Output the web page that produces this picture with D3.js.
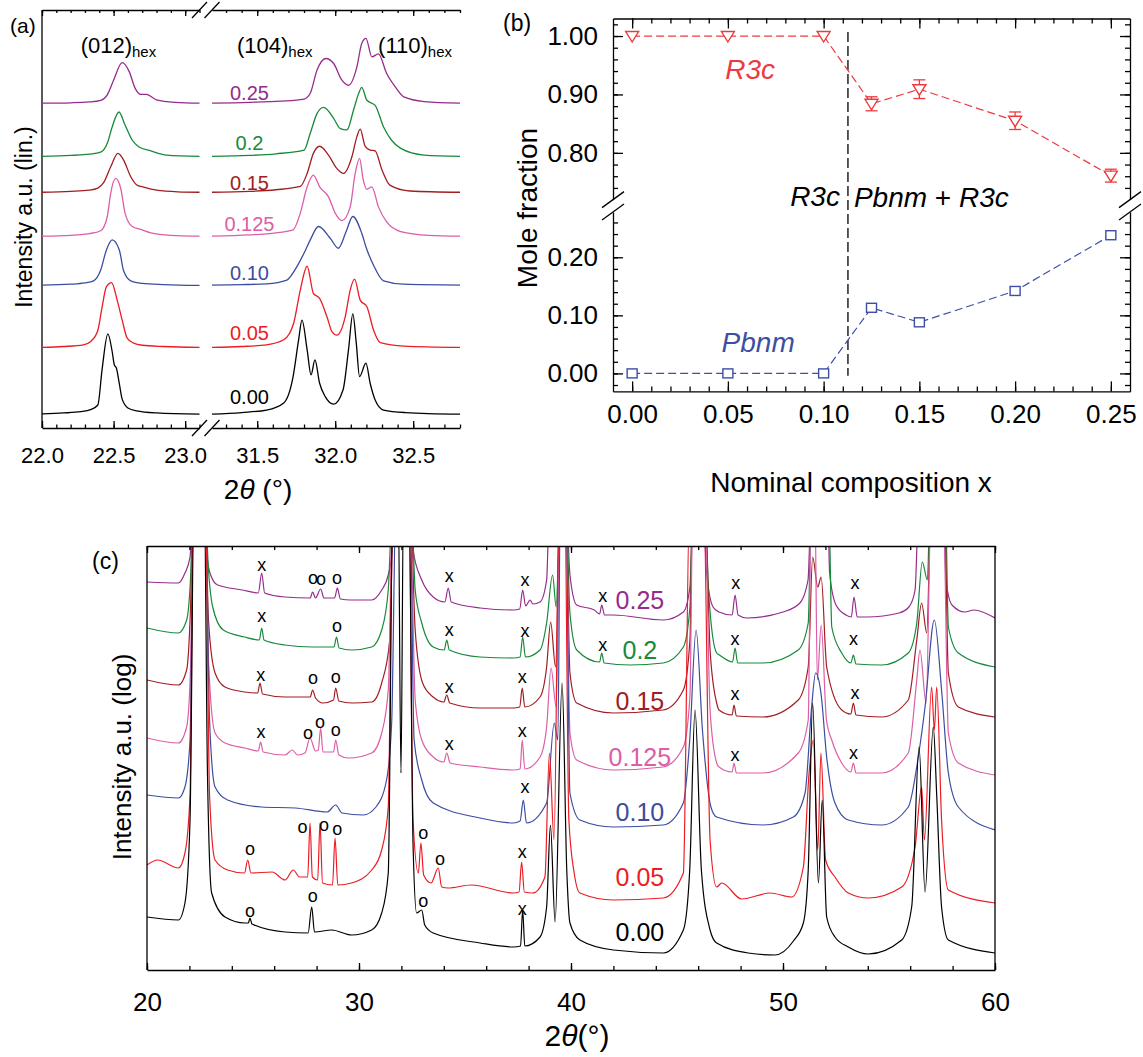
<!DOCTYPE html>
<html>
<head>
<meta charset="utf-8">
<script src="https://cdn.jsdelivr.net/npm/d3@7"></script>
<style>
  body { margin: 0; background: #fff; }
</style>
</head>
<body>
<div id="chart"></div>
<script>
// ---------------- data ----------------
const compLabels = ["0.00", "0.05", "0.10", "0.125", "0.15", "0.2", "0.25"];
const compColors = ["#000000", "#ec1c24", "#3b4da0", "#dc5ea6", "#a11d21", "#178a3a", "#952c8b"];

// panel (a): linear XRD, heights above each curve's offset
const aOffsets = [0.31, 1.91, 3.40, 4.57, 5.62, 6.48, 7.75];
const aTicksL = [22.0, 22.5, 23.0];
const aTicksR = [31.5, 32.0, 32.5];

const aL000 = [[22.0,0.03],[22.15,0.05],[22.27,0.08],[22.34,0.13],[22.39,0.24],[22.42,1.1],[22.46,1.94],[22.49,1.52],[22.505,1.2],[22.52,1.12],[22.54,0.75],[22.56,0.38],[22.6,0.17],[22.66,0.1],[22.8,0.05],[23.1,0.02]];
const aL005 = [[22.0,0.02],[22.15,0.04],[22.29,0.08],[22.34,0.16],[22.39,0.43],[22.42,0.99],[22.45,1.47],[22.486,1.57],[22.525,1.15],[22.56,0.67],[22.595,0.24],[22.64,0.12],[22.7,0.07],[22.85,0.04],[23.1,0.02]];
const aL010 = [[22.0,0.02],[22.2,0.04],[22.3,0.07],[22.36,0.12],[22.41,0.38],[22.45,0.86],[22.49,1.10],[22.54,0.86],[22.57,0.36],[22.62,0.12],[22.7,0.06],[22.85,0.03],[23.1,0.01]];
const aL0125 = [[22.0,0.02],[22.2,0.04],[22.33,0.08],[22.41,0.15],[22.456,0.49],[22.48,1.05],[22.514,1.40],[22.55,1.16],[22.58,0.57],[22.63,0.25],[22.69,0.18],[22.76,0.1],[22.9,0.04],[23.1,0.02]];
const aL015 = [[22.0,0.02],[22.2,0.04],[22.33,0.07],[22.39,0.12],[22.43,0.25],[22.48,0.63],[22.53,0.95],[22.57,0.79],[22.62,0.39],[22.66,0.2],[22.71,0.14],[22.8,0.07],[22.95,0.03],[23.1,0.02]];
const aL020 = [[22.0,0.02],[22.2,0.04],[22.33,0.07],[22.41,0.12],[22.456,0.33],[22.49,0.72],[22.537,1.08],[22.58,0.77],[22.63,0.41],[22.675,0.25],[22.76,0.15],[22.87,0.05],[23.1,0.02]];
const aL025 = [[22.0,0.02],[22.2,0.03],[22.33,0.05],[22.41,0.09],[22.456,0.22],[22.50,0.57],[22.56,0.99],[22.61,0.77],[22.65,0.38],[22.69,0.23],[22.73,0.23],[22.80,0.1],[22.93,0.04],[23.1,0.02]];

const aR000 = [[31.21,0.02],[31.4,0.06],[31.56,0.12],[31.67,0.29],[31.73,0.92],[31.765,1.79],[31.787,2.27],[31.82,1.56],[31.845,0.96],[31.87,1.32],[31.90,0.76],[31.936,0.44],[31.99,0.26],[32.05,0.6],[32.085,1.56],[32.113,2.42],[32.135,1.72],[32.156,0.92],[32.197,1.24],[32.224,0.76],[32.256,0.36],[32.31,0.12],[32.45,0.06],[32.8,0.02]];
const aR005 = [[31.21,0.02],[31.4,0.04],[31.56,0.08],[31.67,0.2],[31.733,0.59],[31.776,1.39],[31.82,1.96],[31.86,1.31],[31.90,1.19],[31.947,0.75],[31.98,0.39],[32.01,0.31],[32.064,0.75],[32.096,1.39],[32.124,1.65],[32.16,1.15],[32.203,0.99],[32.246,0.43],[32.29,0.13],[32.44,0.05],[32.8,0.02]];
const aR010 = [[31.21,0.02],[31.4,0.03],[31.56,0.05],[31.69,0.14],[31.754,0.46],[31.81,0.86],[31.84,1.10],[31.893,1.42],[31.968,1.14],[32.02,0.90],[32.07,1.3],[32.113,1.66],[32.17,1.26],[32.20,0.9],[32.245,0.5],[32.31,0.12],[32.44,0.04],[32.8,0.02]];
const aR0125 = [[31.21,0.02],[31.45,0.05],[31.62,0.1],[31.73,0.17],[31.776,0.57],[31.82,1.20],[31.86,1.48],[31.90,1.20],[31.957,0.96],[32.0,0.57],[32.043,0.39],[32.096,0.72],[32.128,1.52],[32.156,1.88],[32.18,1.36],[32.203,1.14],[32.235,1.20],[32.277,0.72],[32.33,0.36],[32.42,0.13],[32.6,0.04],[32.8,0.02]];
const aR015 = [[31.21,0.02],[31.45,0.04],[31.62,0.08],[31.776,0.16],[31.82,0.47],[31.86,0.95],[31.90,1.12],[31.957,0.91],[32.01,0.59],[32.053,0.47],[32.107,0.87],[32.139,1.35],[32.16,1.53],[32.192,1.12],[32.224,1.03],[32.256,1.01],[32.30,0.55],[32.35,0.19],[32.48,0.05],[32.8,0.02]];
const aR020 = [[31.21,0.02],[31.45,0.04],[31.62,0.08],[31.80,0.17],[31.84,0.57],[31.883,1.04],[31.925,1.19],[31.99,0.93],[32.03,0.69],[32.075,0.65],[32.117,1.12],[32.15,1.52],[32.17,1.67],[32.203,1.36],[32.256,1.24],[32.31,0.72],[32.36,0.41],[32.42,0.21],[32.57,0.05],[32.8,0.02]];
const aR025 = [[31.21,0.02],[31.45,0.04],[31.65,0.07],[31.80,0.12],[31.84,0.26],[31.883,0.81],[31.94,1.09],[31.99,0.97],[32.043,0.57],[32.085,0.45],[32.139,0.89],[32.17,1.45],[32.197,1.57],[32.235,1.13],[32.277,1.20],[32.33,0.73],[32.385,0.41],[32.44,0.17],[32.57,0.06],[32.8,0.02]];

const aLeft = [aL000, aL005, aL010, aL0125, aL015, aL020, aL025];
const aRight = [aR000, aR005, aR010, aR0125, aR015, aR020, aR025];

// panel (b): mole fractions
const bX = [0, 0.05, 0.10, 0.125, 0.15, 0.20, 0.25];
const bR3c = [1.00, 1.00, 1.00, 0.884, 0.909, 0.855, 0.761];
const bR3cErr = [0, 0, 0, 0.012, 0.016, 0.015, 0.011];
const bPbnm = [0, 0, 0, 0.113, 0.088, 0.142, 0.238];
const bBoundary = 0.1127;
const bTicksX = [0, 0.05, 0.10, 0.15, 0.20, 0.25];
const bTicksYUpper = [0.80, 0.90, 1.00];
const bTicksYLower = [0.00, 0.10, 0.20];

// panel (c): log XRD, 2theta vs. stacked log intensity (a.u.)
const cTicks = [20, 30, 40, 50, 60];
const c025 = [[20,7.76],[21.48,7.74],[21.79,7.94],[22.03,8.26],[22.2,9.5],[22.7,9.5],[22.82,8.34],[22.97,7.94],[23.33,7.70],[24.5,7.60],[25.25,7.54],[25.41,7.94],[25.55,7.54],[26.5,7.46],[27.7,7.44],[27.81,7.56],[27.95,7.44],[28.19,7.62],[28.35,7.44],[28.85,7.44],[28.98,7.64],[29.12,7.42],[29.6,7.40],[30.6,7.40],[31.07,7.60],[31.38,7.90],[31.54,8.3],[31.7,9.5],[32.4,9.5],[32.55,8.4],[32.96,7.80],[33.5,7.46],[34.05,7.36],[34.21,7.64],[34.35,7.36],[35.71,7.24],[37.28,7.20],[37.58,7.22],[37.72,7.60],[37.86,7.28],[38.07,7.40],[38.2,7.32],[38.54,7.36],[38.85,7.8],[39.0,9.5],[39.3,8.7],[39.5,9.5],[39.75,9.5],[39.95,7.90],[40.27,7.30],[41.1,7.20],[41.35,7.12],[41.45,7.30],[41.58,7.10],[42.0,7.10],[44.35,7.00],[45.3,7.16],[45.61,7.66],[45.77,9.5],[46.2,9.5],[46.4,7.94],[46.7,7.26],[46.98,7.16],[47.6,7.10],[47.74,7.50],[47.88,7.10],[48.3,7.04],[50.0,7.16],[50.8,7.34],[51.18,7.80],[51.35,9.5],[52.1,9.5],[52.2,7.94],[52.5,7.30],[52.97,7.10],[53.22,7.06],[53.35,7.46],[53.5,7.06],[53.96,7.06],[55.47,7.14],[55.94,7.26],[56.23,7.60],[56.42,9.5],[57.55,9.5],[57.69,7.80],[57.97,7.30],[58.58,7.16],[59.0,7.20],[60,7.04]];
const c020 = [[20,6.84],[21.48,6.74],[21.87,7.0],[22.05,7.8],[22.2,9.5],[22.72,9.5],[22.9,8.0],[23.1,7.26],[23.6,6.80],[24.6,6.66],[25.3,6.60],[25.41,6.84],[25.52,6.60],[26.5,6.50],[27.8,6.46],[28.82,6.46],[28.94,6.66],[29.06,6.44],[29.65,6.40],[30.6,6.46],[31.07,6.80],[31.38,7.6],[31.6,9.5],[32.45,9.5],[32.65,7.6],[32.96,6.94],[33.5,6.46],[34.02,6.40],[34.14,6.60],[34.26,6.40],[35.71,6.26],[37.28,6.24],[37.6,6.26],[37.72,6.66],[37.85,6.26],[38.54,6.40],[38.85,6.94],[39.13,7.90],[39.3,7.26],[39.5,9.5],[39.75,9.5],[39.95,7.14],[40.27,6.40],[41.35,6.16],[41.45,6.34],[41.56,6.14],[42.78,6.10],[44.35,6.14],[45.3,6.46],[45.61,7.26],[45.75,9.5],[46.3,9.5],[46.5,7.5],[46.87,6.34],[47.0,6.30],[47.62,6.16],[47.74,6.44],[47.86,6.14],[49.06,6.14],[50.72,6.40],[51.19,6.94],[51.35,9.5],[52.15,9.5],[52.3,6.86],[52.77,6.34],[53.2,6.14],[53.32,6.30],[53.44,6.12],[54.65,6.10],[55.91,6.34],[56.31,6.94],[56.57,8.16],[56.81,7.80],[56.95,9.5],[57.65,9.5],[57.8,6.86],[58.27,6.34],[60,6.06]];
const c015 = [[20,5.80],[21.48,5.70],[21.87,6.0],[22.05,7.2],[22.2,9.5],[22.72,9.5],[22.9,7.0],[23.21,5.94],[23.68,5.66],[24.62,5.56],[25.22,5.54],[25.33,5.74],[25.45,5.52],[26.51,5.46],[27.7,5.46],[27.81,5.60],[27.95,5.44],[28.3,5.34],[28.8,5.40],[28.9,5.64],[29.05,5.38],[29.65,5.34],[30.6,5.36],[31.07,5.74],[31.45,6.6],[31.65,9.5],[32.4,9.5],[32.65,6.8],[33.0,5.74],[33.5,5.46],[34.0,5.36],[34.14,5.50],[34.28,5.34],[35.71,5.24],[37.28,5.24],[37.58,5.26],[37.7,5.64],[37.82,5.26],[38.54,5.46],[38.85,6.06],[39.04,6.96],[39.27,6.06],[39.5,9.5],[39.75,9.5],[39.95,5.94],[40.27,5.34],[42.0,5.14],[44.35,5.20],[45.3,5.60],[45.61,6.6],[45.75,9.5],[46.3,9.5],[46.56,6.4],[46.87,5.34],[46.98,5.20],[47.6,5.10],[47.69,5.30],[47.8,5.08],[49.06,5.06],[50.72,5.40],[51.19,6.06],[51.4,8.26],[51.64,7.66],[51.8,7.86],[52.06,6.06],[52.77,5.20],[53.2,5.12],[53.32,5.34],[53.44,5.10],[54.65,5.06],[55.91,5.40],[56.31,6.6],[56.54,7.34],[56.78,6.74],[57.0,9.5],[57.6,9.5],[57.8,5.94],[58.27,5.26],[60,5.06]];
const c0125 = [[20,4.64],[21.48,4.54],[21.87,4.86],[22.05,6.0],[22.2,9.5],[22.72,9.5],[22.9,6.2],[23.21,4.74],[23.68,4.54],[24.62,4.44],[25.25,4.38],[25.36,4.56],[25.48,4.36],[26.51,4.30],[26.85,4.40],[27.1,4.30],[27.45,4.34],[27.69,4.64],[27.95,4.38],[28.08,4.40],[28.19,4.84],[28.3,4.36],[28.8,4.36],[28.9,4.60],[29.05,4.30],[29.5,4.24],[30.6,4.34],[31.07,4.74],[31.38,5.6],[31.6,9.5],[32.4,9.5],[32.65,5.4],[32.96,4.60],[33.5,4.26],[34.0,4.16],[34.14,4.34],[34.3,4.14],[35.71,4.06],[37.28,4.00],[37.6,4.02],[37.7,4.60],[37.82,4.02],[38.54,4.26],[38.85,4.86],[39.06,6.04],[39.3,5.26],[39.5,9.5],[39.75,9.5],[39.95,4.74],[40.27,4.20],[42.0,4.00],[44.35,4.06],[45.3,4.46],[45.61,5.46],[45.75,9.5],[46.3,9.5],[46.56,5.2],[46.87,4.14],[46.98,4.06],[47.6,3.96],[47.69,4.14],[47.8,3.94],[49.06,3.94],[50.72,4.34],[51.19,5.0],[51.33,9.5],[51.5,9.5],[51.62,5.8],[51.8,6.90],[52.05,5.0],[52.3,4.60],[52.77,4.14],[53.2,3.96],[53.32,4.14],[53.44,3.94],[54.65,3.94],[55.91,4.34],[56.31,5.8],[56.46,6.40],[56.75,5.34],[57.0,9.5],[57.55,9.5],[57.8,4.74],[58.27,4.14],[60,3.90]];
const c010 = [[20,3.50],[21.48,3.44],[21.79,3.66],[22.03,4.6],[22.2,9.5],[22.75,9.5],[22.95,5.0],[23.21,3.66],[23.8,3.40],[25.4,3.26],[27.0,3.24],[28.5,3.16],[28.9,3.30],[29.2,3.14],[30.2,3.10],[30.8,3.26],[31.3,3.8],[31.54,4.94],[31.75,9.5],[32.4,9.5],[32.6,4.6],[32.96,3.8],[33.5,3.34],[35.71,3.04],[37.28,2.94],[37.6,2.98],[37.75,3.40],[37.9,2.94],[38.85,3.34],[39.21,4.94],[39.38,4.6],[39.5,9.5],[39.75,9.5],[39.95,3.54],[40.42,3.00],[42.0,2.86],[44.35,2.90],[45.3,3.34],[45.6,4.6],[45.9,6.80],[46.2,4.8],[46.6,3.26],[46.87,3.06],[49.06,2.90],[50.49,3.06],[51.04,3.54],[51.35,5.26],[51.54,5.94],[51.79,5.54],[52.06,4.26],[52.45,3.34],[53.08,3.00],[54.65,2.90],[55.91,3.26],[56.38,4.26],[56.7,5.26],[57.14,7.00],[57.48,5.6],[57.8,3.94],[58.27,3.26],[60,2.80]];
const c005 = [[20,2.10],[20.5,2.20],[21.48,2.04],[21.79,2.34],[22.03,3.5],[22.2,9.5],[22.75,9.5],[22.95,3.5],[23.21,2.20],[23.8,2.00],[24.6,1.94],[24.75,2.20],[24.9,1.94],[25.9,1.96],[26.51,1.80],[26.9,2.0],[27.2,1.86],[27.58,1.86],[27.69,2.94],[27.8,1.86],[28.05,1.80],[28.16,2.94],[28.28,1.74],[28.75,1.70],[28.87,2.64],[29.0,1.70],[29.65,1.74],[30.6,2.00],[31.07,2.40],[31.38,3.26],[31.6,9.5],[32.35,9.5],[32.55,3.0],[32.8,1.94],[32.92,2.54],[33.05,1.90],[33.4,1.74],[33.74,2.04],[33.9,1.66],[34.2,1.64],[35.3,1.70],[37.28,1.54],[37.55,1.56],[37.67,2.16],[37.8,1.56],[38.2,1.54],[38.77,1.86],[38.98,4.34],[39.2,2.6],[39.45,9.5],[39.7,9.5],[39.9,3.0],[40.15,1.94],[40.42,1.54],[42.0,1.40],[44.35,1.44],[45.3,1.94],[45.6,9.5],[46.25,9.5],[46.56,2.6],[46.87,1.66],[47.11,1.74],[48.05,1.42],[49.39,1.54],[50.41,1.46],[50.96,2.06],[51.23,3.94],[51.43,4.60],[51.64,2.40],[51.79,4.34],[52.01,2.20],[52.45,1.86],[53.08,1.54],[54.02,1.44],[55.6,1.66],[56.23,2.46],[56.54,3.66],[56.67,2.6],[57.01,5.66],[57.14,4.8],[57.25,5.66],[57.48,3.0],[57.8,1.60],[60,1.34]];
const c000 = [[20,1.06],[21.48,1.00],[21.79,1.34],[22.03,3.0],[22.22,9.5],[22.7,9.5],[22.85,4.0],[23.05,1.54],[23.68,1.06],[24.62,0.94],[24.78,0.94],[24.86,1.04],[24.95,0.92],[26.51,0.76],[27.6,0.74],[27.77,1.26],[27.9,0.76],[28.71,0.80],[29.65,0.70],[30.6,0.80],[31.07,1.14],[31.38,1.94],[31.6,9.5],[31.85,9.5],[31.98,3.94],[32.1,9.5],[32.35,9.5],[32.55,2.5],[32.72,1.14],[32.96,1.20],[33.1,0.90],[33.5,0.74],[35.71,0.54],[37.28,0.46],[37.62,0.48],[37.72,1.20],[37.82,0.48],[38.54,0.66],[38.85,1.26],[39.03,2.9],[39.25,0.96],[39.58,5.74],[39.8,2.0],[39.95,0.94],[40.42,0.60],[42.0,0.40],[44.35,0.34],[45.3,0.80],[45.6,2.0],[45.85,5.2],[46.15,2.0],[46.56,0.8],[46.87,0.54],[48.36,0.34],[49.61,0.30],[50.49,0.58],[50.96,0.94],[51.19,2.0],[51.4,5.34],[51.67,1.74],[51.85,3.40],[52.06,1.06],[52.45,0.66],[53.08,0.46],[54.02,0.32],[55.6,0.60],[56.07,1.26],[56.42,4.46],[56.7,1.56],[57.09,4.86],[57.25,3.5],[57.48,1.26],[57.8,0.60],[60,0.34]];
const cCurves = [c000, c005, c010, c0125, c015, c020, c025];

// impurity reflections marked above the patterns: [2theta, level, mark]
const cMarks = [
  [25.41,8.10,"x"],[27.83,7.84,"o"],[28.21,7.82,"o"],[28.96,7.84,"o"],[34.26,7.88,"x"],[37.83,7.80,"x"],[41.50,7.48,"x"],[47.77,7.74,"x"],[53.40,7.74,"x"],
  [25.41,7.08,"x"],[28.96,6.88,"o"],[34.26,6.80,"x"],[37.83,6.78,"x"],[41.50,6.50,"x"],[47.74,6.62,"x"],[53.32,6.62,"x"],
  [25.36,5.90,"x"],[27.83,5.84,"o"],[28.90,5.86,"o"],[34.26,5.66,"x"],[37.70,5.86,"x"],[47.74,5.52,"x"],[53.40,5.54,"x"],
  [25.38,4.76,"x"],[27.59,4.74,"o"],[28.16,4.96,"o"],[28.90,4.80,"o"],[34.26,4.52,"x"],[37.70,4.78,"x"],[47.74,4.30,"x"],[53.32,4.34,"x"],
  [37.83,3.66,"x"],
  [24.86,2.42,"o"],[27.34,2.86,"o"],[28.35,2.90,"o"],[28.98,2.82,"o"],[33.03,2.74,"o"],[33.82,2.22,"o"],[37.70,2.36,"x"],
  [24.86,1.18,"o"],[27.82,1.48,"o"],[33.03,1.38,"o"],[37.70,1.22,"x"]
];
const cLabelLevels = [0.76, 1.86, 3.16, 4.26, 5.38, 6.40, 7.40];

// ---------------- drawing ----------------
const W = 1143, H = 1057;
const FONT = '"Liberation Sans", Arial, Helvetica, sans-serif';
const svg = d3.select("#chart").append("svg")
  .attr("width", W).attr("height", H)
  .style("font-family", FONT);
svg.append("rect").attr("width", W).attr("height", H).attr("fill", "#fff");

function styleAxis(g, size) {
  g.attr("font-family", FONT).attr("font-size", size);
  g.selectAll("path, line").attr("stroke", "#000").attr("stroke-width", 1.3);
}

// ======== panel (a) ========
const xaL = d3.scaleLinear().domain([22.0, 23.1]).range([42, 199.5]);
const xaR = d3.scaleLinear().domain([31.21, 32.8]).range([212, 460]);
const ya = d3.scaleLinear().domain([0, 10]).range([428, 10]);
const minorL = d3.range(220, 232).map(d => d / 10);
const minorR = d3.range(313, 329).map(d => d / 10);

[[xaL, aTicksL, minorL], [xaR, aTicksR, minorR]].forEach(([sc, majors, minors]) => {
  svg.append("g").attr("transform", `translate(0,${ya(0)})`)
    .call(d3.axisBottom(sc).tickValues(majors).tickSizeInner(-7).tickSizeOuter(0)
      .tickPadding(19).tickFormat(d3.format(".1f")))
    .call(g => styleAxis(g, 22));
  svg.append("g").attr("transform", `translate(0,${ya(0)})`)
    .call(d3.axisBottom(sc).tickValues(minors).tickSize(-3.5).tickFormat(""))
    .call(g => g.select(".domain").remove()).call(g => styleAxis(g, 10));
  svg.append("g").attr("transform", `translate(0,${ya(10)})`)
    .call(d3.axisTop(sc).tickValues(majors).tickSizeInner(-6).tickSizeOuter(0).tickFormat(""))
    .call(g => styleAxis(g, 10));
  svg.append("g").attr("transform", `translate(0,${ya(10)})`)
    .call(d3.axisTop(sc).tickValues(minors).tickSize(-3).tickFormat(""))
    .call(g => g.select(".domain").remove()).call(g => styleAxis(g, 10));
});
svg.append("line").attr("x1", xaL(22.0)).attr("x2", xaL(22.0))
  .attr("y1", ya(10)).attr("y2", ya(0)).attr("stroke", "#000").attr("stroke-width", 1.3);

// axis break marks (a)
[xaL.range()[1], xaR.range()[0]].forEach(x => {
  [ya(10), ya(0)].forEach(y => {
    svg.append("line").attr("x1", x - 7.5).attr("y1", y + 8).attr("x2", x + 7.5).attr("y2", y - 8)
      .attr("stroke", "#000").attr("stroke-width", 1.3);
  });
});

const lineAL = (off) => d3.line().x(d => xaL(d[0])).y(d => ya(off + d[1])).curve(d3.curveMonotoneX);
const lineAR = (off) => d3.line().x(d => xaR(d[0])).y(d => ya(off + d[1])).curve(d3.curveMonotoneX);
aOffsets.forEach((off, i) => {
  svg.append("path").attr("d", lineAL(off)(aLeft[i])).attr("fill", "none")
    .attr("stroke", compColors[i]).attr("stroke-width", 1.3);
  svg.append("path").attr("d", lineAR(off)(aRight[i])).attr("fill", "none")
    .attr("stroke", compColors[i]).attr("stroke-width", 1.3);
});

// composition labels (a)
const aLabelLevels = [0.74, 2.28, 3.71, 4.88, 5.86, 6.82, 8.01];
aLabelLevels.forEach((lv, i) => {
  svg.append("text").attr("x", xaR(31.45)).attr("y", ya(lv))
    .attr("text-anchor", "middle").attr("dominant-baseline", "central")
    .attr("font-size", 20).attr("fill", compColors[i]).text(compLabels[i]);
});

// reflection labels (a)
[[xaL(22.27), "(012)"], [xaR(31.37), "(104)"], [xaR(32.275), "(110)"]].forEach(([x, t]) => {
  const tx = svg.append("text").attr("x", x).attr("y", 53).attr("font-size", 22);
  tx.append("tspan").text(t);
  tx.append("tspan").attr("font-size", 15).attr("dy", 4).text("hex");
});
svg.append("text").attr("x", 10).attr("y", 33).attr("font-size", 21).text("(a)");
svg.append("text").attr("transform", "translate(32,217) rotate(-90)")
  .attr("text-anchor", "middle").attr("font-size", 23).text("Intensity a.u. (lin.)");
const t2a = svg.append("text").attr("x", 258).attr("y", 499).attr("text-anchor", "middle").attr("font-size", 28);
t2a.append("tspan").text("2");
t2a.append("tspan").attr("font-style", "italic").text("\u03B8");
t2a.append("tspan").text(" (\u00B0)");

// ======== panel (b) ========
const xb = d3.scaleLinear().domain([-0.01, 0.26]).range([613, 1130]);
const ybU = d3.scaleLinear().domain([0.72, 1.03]).range([199.6, 18.5]);
const ybL = d3.scaleLinear().domain([-0.031, 0.278]).range([391.4, 212]);
const bMinorX = d3.range(0, 26).map(d => d / 100);
const bMinorU = d3.range(37, 52).map(d => d / 50);
const bMinorL = d3.range(-1, 14).map(d => d / 50);
const f2 = d3.format(".2f");

svg.append("g").attr("transform", `translate(0,${ybL.range()[0]})`)
  .call(d3.axisBottom(xb).tickValues(bTicksX).tickSizeInner(-10).tickSizeOuter(0).tickPadding(13).tickFormat(f2))
  .call(g => styleAxis(g, 26));
svg.append("g").attr("transform", `translate(0,${ybL.range()[0]})`)
  .call(d3.axisBottom(xb).tickValues(bMinorX).tickSize(-5).tickFormat(""))
  .call(g => g.select(".domain").remove()).call(g => styleAxis(g, 10));
svg.append("g").attr("transform", `translate(0,${ybU.range()[1]})`)
  .call(d3.axisTop(xb).tickValues(bTicksX).tickSizeInner(-10).tickSizeOuter(0).tickFormat(""))
  .call(g => styleAxis(g, 10));
svg.append("g").attr("transform", `translate(0,${ybU.range()[1]})`)
  .call(d3.axisTop(xb).tickValues(bMinorX).tickSize(-5).tickFormat(""))
  .call(g => g.select(".domain").remove()).call(g => styleAxis(g, 10));

[[ybU, bTicksYUpper, bMinorU], [ybL, bTicksYLower, bMinorL]].forEach(([sc, majors, minors]) => {
  svg.append("g").attr("transform", `translate(${xb.range()[0]},0)`)
    .call(d3.axisLeft(sc).tickValues(majors).tickSizeInner(-10).tickSizeOuter(0).tickPadding(15).tickFormat(f2))
    .call(g => styleAxis(g, 26));
  svg.append("g").attr("transform", `translate(${xb.range()[0]},0)`)
    .call(d3.axisLeft(sc).tickValues(minors).tickSize(-5).tickFormat(""))
    .call(g => g.select(".domain").remove()).call(g => styleAxis(g, 10));
  svg.append("g").attr("transform", `translate(${xb.range()[1]},0)`)
    .call(d3.axisRight(sc).tickValues(majors).tickSizeInner(-10).tickSizeOuter(0).tickFormat(""))
    .call(g => styleAxis(g, 10));
  svg.append("g").attr("transform", `translate(${xb.range()[1]},0)`)
    .call(d3.axisRight(sc).tickValues(minors).tickSize(-5).tickFormat(""))
    .call(g => g.select(".domain").remove()).call(g => styleAxis(g, 10));
});

// axis break marks (b)
xb.range().forEach(x => {
  [ybU.range()[0], ybL.range()[1]].forEach(y => {
    svg.append("line").attr("x1", x - 11).attr("y1", y + 8).attr("x2", x + 11).attr("y2", y - 8)
      .attr("stroke", "#000").attr("stroke-width", 1.3);
  });
});

// phase boundary
svg.append("line").attr("x1", xb(bBoundary)).attr("x2", xb(bBoundary))
  .attr("y1", ybU(1.007)).attr("y2", ybL(-0.004))
  .attr("stroke", "#000").attr("stroke-width", 1.3).attr("stroke-dasharray", "10,4");

const redB = "#ec3a3f", blueB = "#3d4fa2";
const bR3cPts = bX.map((x, i) => [x, bR3c[i], bR3cErr[i]]);
const bPbnmPts = bX.map((x, i) => [x, bPbnm[i]]);

svg.append("path").attr("d", d3.line().x(d => xb(d[0])).y(d => ybU(d[1]))(bR3cPts))
  .attr("fill", "none").attr("stroke", redB).attr("stroke-width", 1.2).attr("stroke-dasharray", "8,4");
svg.append("path").attr("d", d3.line().x(d => xb(d[0])).y(d => ybL(d[1]))(bPbnmPts))
  .attr("fill", "none").attr("stroke", blueB).attr("stroke-width", 1.2).attr("stroke-dasharray", "8,4");

const errG = svg.append("g").attr("stroke", redB).attr("stroke-width", 1.3);
bR3cPts.filter(d => d[2] > 0).forEach(d => {
  const x = xb(d[0]);
  errG.append("line").attr("x1", x).attr("x2", x).attr("y1", ybU(d[1] - d[2])).attr("y2", ybU(d[1] + d[2]));
  [d[1] - d[2], d[1] + d[2]].forEach(v => {
    errG.append("line").attr("x1", x - 6).attr("x2", x + 6).attr("y1", ybU(v)).attr("y2", ybU(v));
  });
});

svg.append("g").selectAll("path").data(bR3cPts).join("path")
  .attr("transform", d => `translate(${xb(d[0])},${ybU(d[1])})`)
  .attr("d", "M-6.5,-4.5L6.5,-4.5L0,6Z")
  .attr("fill", "#fff").attr("stroke", redB).attr("stroke-width", 1.4);
svg.append("g").selectAll("rect").data(bPbnmPts).join("rect")
  .attr("x", d => xb(d[0]) - 5).attr("y", d => ybL(d[1]) - 4.5)
  .attr("width", 10).attr("height", 9)
  .attr("fill", "#fff").attr("stroke", blueB).attr("stroke-width", 1.4);

svg.append("text").attr("x", xb(0.0616)).attr("y", ybU(0.943)).attr("text-anchor", "middle")
  .attr("dominant-baseline", "central").attr("font-size", 28).attr("font-style", "italic")
  .attr("fill", redB).text("R3c");
svg.append("text").attr("x", xb(0.0658)).attr("y", ybL(0.053)).attr("text-anchor", "middle")
  .attr("dominant-baseline", "central").attr("font-size", 28).attr("font-style", "italic")
  .attr("fill", blueB).text("Pbnm");
svg.append("text").attr("x", xb(bBoundary) - 8).attr("y", ybU(0.7245)).attr("text-anchor", "end")
  .attr("dominant-baseline", "central").attr("font-size", 28).attr("font-style", "italic").text("R3c");
const pr = svg.append("text").attr("x", xb(bBoundary) + 6).attr("y", ybU(0.7245))
  .attr("dominant-baseline", "central").attr("font-size", 28);
pr.append("tspan").attr("font-style", "italic").text("Pbnm");
pr.append("tspan").text(" + ");
pr.append("tspan").attr("font-style", "italic").text("R3c");

svg.append("text").attr("x", 503).attr("y", 31).attr("font-size", 23).text("(b)");
svg.append("text").attr("transform", "translate(537,208) rotate(-90)")
  .attr("text-anchor", "middle").attr("font-size", 28).text("Mole fraction");
svg.append("text").attr("x", 851).attr("y", 492).attr("text-anchor", "middle")
  .attr("font-size", 28).text("Nominal composition x");

// ======== panel (c) ========
const xc = d3.scaleLinear().domain([20, 60]).range([147, 995]);
const yc = d3.scaleLinear().domain([0, 8.48]).range([970, 546]);
const cMinor = d3.range(20, 61, 2);

svg.append("defs").append("clipPath").attr("id", "clipC").append("rect")
  .attr("x", xc(20)).attr("y", yc(8.48)).attr("width", xc(60) - xc(20)).attr("height", yc(0) - yc(8.48));

const lineC = d3.line().x(d => xc(d[0])).y(d => yc(d[1])).curve(d3.curveMonotoneX);
const gc = svg.append("g").attr("clip-path", "url(#clipC)");
for (let i = cCurves.length - 1; i >= 0; i--) {
  gc.append("path").attr("d", lineC(cCurves[i])).attr("fill", "none")
    .attr("stroke", compColors[i]).attr("stroke-width", 1.2);
}

svg.append("g").attr("transform", `translate(0,${yc(0)})`)
  .call(d3.axisBottom(xc).tickValues(cTicks).tickSizeInner(-7).tickSizeOuter(0).tickPadding(23).tickFormat(d3.format("d")))
  .call(g => styleAxis(g, 26));
svg.append("g").attr("transform", `translate(0,${yc(0)})`)
  .call(d3.axisBottom(xc).tickValues(cMinor).tickSize(-4).tickFormat(""))
  .call(g => g.select(".domain").remove()).call(g => styleAxis(g, 10));
svg.append("g").attr("transform", `translate(0,${yc(8.48)})`)
  .call(d3.axisTop(xc).tickValues(cTicks).tickSizeInner(-7).tickSizeOuter(0).tickFormat(""))
  .call(g => styleAxis(g, 10));
svg.append("g").attr("transform", `translate(0,${yc(8.48)})`)
  .call(d3.axisTop(xc).tickValues(cMinor).tickSize(-4).tickFormat(""))
  .call(g => g.select(".domain").remove()).call(g => styleAxis(g, 10));
[xc(20), xc(60)].forEach(x => {
  svg.append("line").attr("x1", x).attr("x2", x).attr("y1", yc(8.48)).attr("y2", yc(0))
    .attr("stroke", "#000").attr("stroke-width", 1.3);
});

svg.append("g").selectAll("text").data(cMarks).join("text")
  .attr("x", d => xc(d[0])).attr("y", d => yc(d[1]))
  .attr("text-anchor", "middle").attr("dominant-baseline", "central")
  .attr("font-size", 18).text(d => d[2]);

cLabelLevels.forEach((lv, i) => {
  svg.append("text").attr("x", xc(43.25)).attr("y", yc(lv))
    .attr("text-anchor", "middle").attr("dominant-baseline", "central")
    .attr("font-size", 25).attr("fill", compColors[i]).text(compLabels[i]);
});

svg.append("text").attr("x", 92).attr("y", 569).attr("font-size", 23).text("(c)");
svg.append("text").attr("transform", "translate(131,757) rotate(-90)")
  .attr("text-anchor", "middle").attr("font-size", 26).text("Intensity a.u. (log)");
const t2c = svg.append("text").attr("x", 577).attr("y", 1046).attr("text-anchor", "middle").attr("font-size", 30);
t2c.append("tspan").text("2");
t2c.append("tspan").attr("font-style", "italic").text("\u03B8");
t2c.append("tspan").text("(\u00B0)");
</script>
</body>
</html>
